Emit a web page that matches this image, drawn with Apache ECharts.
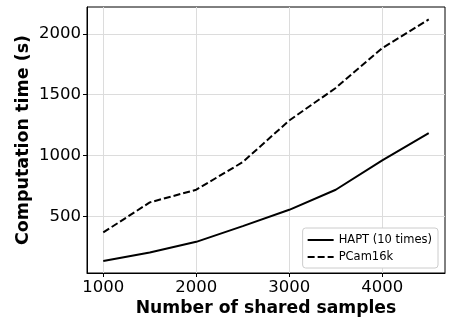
<!DOCTYPE html>
<html>
<head>
<meta charset="utf-8">
<script src="https://cdn.jsdelivr.net/npm/echarts@6/dist/echarts.min.js"></script>
<style>
  html, body { margin: 0; padding: 0; background: #fff; }
  #chart { width: 453px; height: 320px; }
</style>
</head>
<body>
<div id="chart"></div>
<script>
const samples = [1000, 1500, 2000, 2500, 3000, 3500, 4000, 4500]
const hapt = [134, 204, 291, 420, 554, 719, 960, 1184]
const pcam = [368, 615, 719, 946, 1288, 1555, 1882, 2118]
const xTicks = [1000, 2000, 3000, 4000]
const yTicks = [500, 1000, 1500, 2000]

const chart = echarts.init(document.getElementById('chart'))
const font = 'DejaVu Sans'

const pairs = arr => samples.map((s, i) => [s, arr[i]])

const option = {
  animation: false,
  grid: {
    left: 87, right: 8, top: 7, bottom: 47,
    outerBoundsMode: 'none',
    containLabel: false,
    show: true, borderColor: '#000', borderWidth: 1
  },
  legend: {
    orient: 'vertical',
    right: 15, top: 228,
    itemWidth: 26, itemHeight: 10, itemGap: 5,
    padding: [6, 6, 5, 4],
    backgroundColor: '#fff',
    borderColor: '#ccc', borderWidth: 1, borderRadius: 3,
    itemStyle: { color: 'transparent', borderWidth: 0 },
    textStyle: { fontFamily: font, fontSize: 11.5, color: '#000' },
    data: ['HAPT (10 times)', 'PCam16k']
  },
  xAxis: {
    type: 'value',
    min: 825, max: 4675,
    name: 'Number of shared samples',
    nameLocation: 'middle',
    nameGap: 27,
    nameMoveOverlap: false,
    nameTextStyle: { fontFamily: font, fontSize: 17.2, fontWeight: 'bold', color: '#000' },
    axisLine: { show: true, lineStyle: { color: '#000', width: 1 } },
    axisTick: { show: true, length: 4, customValues: xTicks, lineStyle: { color: '#000', width: 1 } },
    axisLabel: {
      customValues: xTicks, fontFamily: font, fontSize: 16.5, color: '#000', margin: 6,
      formatter: v => String(v)
    },
    splitLine: { show: true, lineStyle: { color: '#dcdcdc', width: 1 } }
  },
  yAxis: {
    type: 'value',
    min: 35, max: 2220,
    name: 'Computation time (s)',
    nameLocation: 'middle',
    nameGap: 55,
    nameMoveOverlap: false,
    nameTextStyle: { fontFamily: font, fontSize: 17.5, fontWeight: 'bold', color: '#000' },
    axisLine: { show: true, lineStyle: { color: '#000', width: 1 } },
    axisTick: { show: true, length: 4, customValues: yTicks, lineStyle: { color: '#000', width: 1 } },
    axisLabel: {
      customValues: yTicks, fontFamily: font, fontSize: 16.5, color: '#000', margin: 6,
      formatter: v => String(v)
    },
    splitLine: { show: true, lineStyle: { color: '#dcdcdc', width: 1 } }
  },
  series: [
    {
      name: 'HAPT (10 times)',
      type: 'line',
      data: pairs(hapt),
      showSymbol: false,
      symbol: 'none',
      lineStyle: { color: '#000', width: 2 },
      itemStyle: { color: '#000' }
    },
    {
      name: 'PCam16k',
      type: 'line',
      data: pairs(pcam),
      showSymbol: false,
      symbol: 'none',
      lineStyle: { color: '#000', width: 2, type: [7, 3] },
      itemStyle: { color: '#000' }
    }
  ]
}

chart.setOption(option)
</script>
</body>
</html>
